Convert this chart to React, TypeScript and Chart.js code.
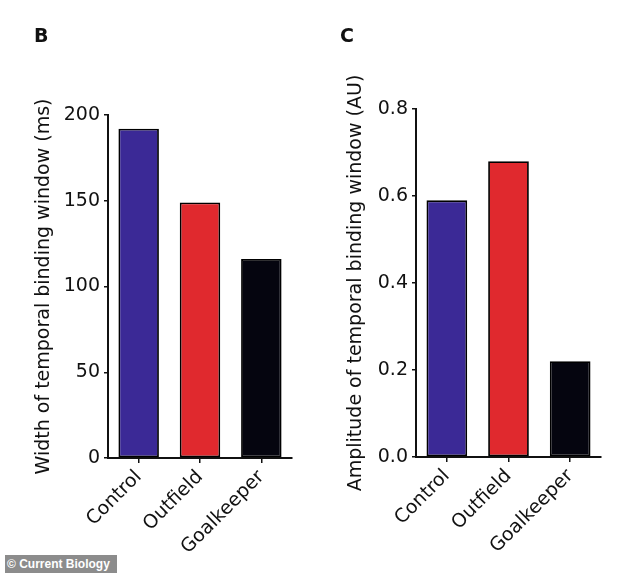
import React, { useEffect, useRef } from "react";
import { Chart, registerables } from "chart.js";

Chart.register(...registerables);

const categories = ["Control", "Outfield", "Goalkeeper"];
const widthValues = [192, 149, 116];
const amplitudeValues = [0.59, 0.68, 0.22];
const barColors = ["#3b2996", "#e0292e", "#05050f"];
const widthTitle = "Width of temporal binding window (ms)";
const amplitudeTitle = "Amplitude of temporal binding window (AU)";

const FONT = "'DejaVu Sans', 'Liberation Sans', Arial, sans-serif";

type PanelProps = {
  values: number[];
  yMax: number;
  yStep: number;
  decimals: number;
  title: string;
  yAxisWidth: number;
  xAxisHeight: number;
  padTop: number;
  padRight: number;
  titlePad: number;
};

function Panel(p: PanelProps) {
  const ref = useRef<HTMLCanvasElement | null>(null);
  useEffect(() => {
    if (!ref.current) return;
    const chart = new Chart(ref.current, {
      type: "bar",
      data: {
        labels: categories,
        datasets: [
          {
            data: p.values,
            backgroundColor: barColors,
            borderColor: "#000",
            borderWidth: 1.8,
            borderSkipped: false,
            barPercentage: 0.66,
            categoryPercentage: 1,
          },
        ],
      },
      options: {
        animation: false,
        responsive: false,
        maintainAspectRatio: false,
        layout: { padding: { top: p.padTop, right: p.padRight, left: 0, bottom: 0 } },
        plugins: { legend: { display: false }, tooltip: { enabled: false } },
        scales: {
          x: {
            offset: true,
            grid: { drawOnChartArea: false, drawTicks: true, tickLength: 5, color: "#111", lineWidth: 1.5, offset: false },
            border: { display: true, color: "#111", width: 2 },
            ticks: {
              color: "#111",
              font: { family: FONT, size: 19 },
              minRotation: 45,
              maxRotation: 45,
              padding: 3,
            },
            afterFit: (s: any) => {
              s.height = p.xAxisHeight;
            },
          },
          y: {
            min: 0,
            max: p.yMax,
            grid: { drawOnChartArea: false, drawTicks: true, tickLength: 4, color: "#111", lineWidth: 1.5 },
            border: { display: true, color: "#111", width: 2 },
            ticks: {
              stepSize: p.yStep,
              color: "#111",
              font: { family: FONT, size: 19 },
              padding: 4,
              callback: (v: any) => Number(v).toFixed(p.decimals),
            },
            title: {
              display: true,
              text: p.title,
              color: "#111",
              font: { family: FONT, size: 19, weight: "normal" },
              padding: { top: p.titlePad, bottom: 0 },
            },
            afterFit: (s: any) => {
              s.width = p.yAxisWidth;
            },
          },
        },
      },
    });
    return () => chart.destroy();
  }, []);
  return <canvas ref={ref} width={317} height={573} style={{ display: "block", width: 317, height: 573 }} />;
}

export default function App() {
  useEffect(() => {
    document.body.style.margin = "0";
  }, []);
  return (
    <div style={{ position: "relative", width: 634, height: 573, background: "#fff", overflow: "hidden" }}>
      <div style={{ position: "absolute", left: 0, top: 0 }}>
        <Panel
          values={widthValues}
          yMax={200}
          yStep={50}
          decimals={0}
          title={widthTitle}
          yAxisWidth={108}
          xAxisHeight={115}
          padTop={115}
          padRight={25}
          titlePad={33}
        />
      </div>
      <div style={{ position: "absolute", left: 317, top: 0 }}>
        <Panel
          values={amplitudeValues}
          yMax={0.8}
          yStep={0.2}
          decimals={1}
          title={amplitudeTitle}
          yAxisWidth={99}
          xAxisHeight={116}
          padTop={109}
          padRight={33}
          titlePad={28}
        />
      </div>
      <div style={{ position: "absolute", left: 34, top: 24, font: `bold 19px ${FONT}`, color: "#111" }}>B</div>
      <div style={{ position: "absolute", left: 340, top: 24, font: `bold 19px ${FONT}`, color: "#111" }}>C</div>
      <div
        style={{
          position: "absolute",
          left: 5,
          top: 555,
          width: 112,
          height: 18,
          background: "#8c8c8c",
          color: "#fff",
          font: `bold 12px 'Liberation Sans', Arial, sans-serif`,
          lineHeight: "18px",
          paddingLeft: 2,
          boxSizing: "border-box",
          whiteSpace: "nowrap",
        }}
      >
        © Current Biology
      </div>
    </div>
  );
}
